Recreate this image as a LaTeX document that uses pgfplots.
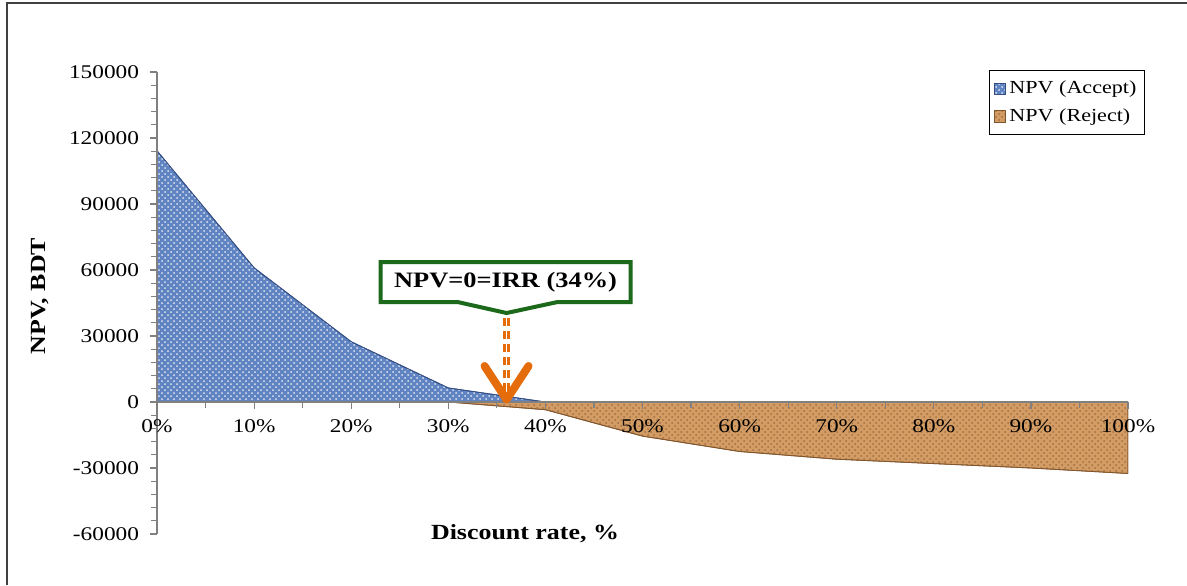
\documentclass[border=0pt]{standalone}
\usepackage{fontspec}
\setmainfont[FakeStretch=1.2]{Liberation Serif}
\usepackage{pgfplots}
\pgfplotsset{compat=1.18}
\usetikzlibrary{patterns}
\definecolor{acc}{RGB}{96,132,194}
\definecolor{accd}{RGB}{52,78,132}
\definecolor{rej}{RGB}{210,156,100}
\definecolor{rejd}{RGB}{130,85,45}
\definecolor{cgreen}{RGB}{28,105,28}
\definecolor{corange}{RGB}{228,108,10}
\begin{document}
\begin{tikzpicture}[x=1pt,y=1pt]
\useasboundingbox (0,0) rectangle (593.5,292.5);
\draw[black!75, line width=0.8pt] (3.5,0) -- (3.5,291) -- (593.5,291);
\begin{axis}[
  at={(78.5pt,25.5pt)}, anchor=south west,
  scale only axis, width=485.5pt, height=231pt,
  xmin=0, xmax=100, ymin=-60000, ymax=150000,
  axis on top,
  axis x line=middle, axis y line=left,
  x axis line style={-}, y axis line style={-},
  axis line style={gray, line width=0.8pt},
  hide obscured x ticks=false, hide obscured y ticks=false,
  xtick={0,10,...,100}, minor x tick num=1,
  ytick={-60000,-30000,0,30000,60000,90000,120000,150000}, minor y tick num=4,
  xticklabel={\pgfmathprintnumber{\tick}\%},
  scaled y ticks=false,
  yticklabel style={/pgf/number format/fixed, /pgf/number format/1000 sep={}},
  /pgf/number format/assume math mode=true,
  tick align=outside, major tick length=3.5pt, minor tick length=3pt,
  tick style={gray, line width=0.6pt},
  ticklabel style={font=\fontsize{9.7}{11}\selectfont},
  xticklabel style={anchor=north, yshift=-2pt},
  yticklabel style={anchor=east, xshift=-2pt},
  xlabel={Discount rate, \%}, ylabel={NPV, BDT},
  xlabel style={font=\bfseries\fontsize{10.8}{13}\selectfont, at={(axis description cs:0.379,0)}, anchor=center},
  ylabel style={font=\bfseries\fontsize{10.8}{13}\selectfont, at={(axis description cs:-0.1205,0.515)}, anchor=center},
  legend style={at={(1,1)}, anchor=north east, xshift=8.5pt, yshift=1pt, draw=black, line width=0.6pt,
    font=\fontsize{9.2}{11}\selectfont, row sep=2pt, inner xsep=2pt, inner ysep=3pt, cells={anchor=west}},
  legend image code/.code={\draw[#1, line width=0.3pt] (0pt,-2.8pt) rectangle (5.6pt,2.8pt);},
]
\addplot[fill=acc, draw=accd, line width=0.4pt,
  postaction={pattern=crosshatch dots, pattern color=white!80!acc}] coordinates {
  (0,114200) (10,61000) (20,27400) (30,6400) (40,0)
} \closedcycle;
\addlegendentry{NPV (Accept)}
\addplot[fill=rej, draw=rejd, line width=0.4pt,
  postaction={pattern=crosshatch dots, pattern color=rejd!60!rej}] coordinates {
  (30,0) (40,-3500) (50,-15500) (60,-22500) (70,-26000) (80,-28000) (90,-30000) (100,-32500)
} \closedcycle;
\addlegendentry{NPV (Reject)}
\coordinate (apex) at (axis cs:36,40450);
\coordinate (zero) at (axis cs:36,0);
\end{axis}
\draw[corange, line width=3.5pt, dash pattern=on 4pt off 2.5pt] ([yshift=-2.5pt]apex) -- ([yshift=4pt]zero);
\draw[white, line width=0.8pt] ([yshift=-2.5pt]apex) -- ([yshift=4pt]zero);
\draw[corange, line width=4pt, line cap=round, line join=round]
  ([shift={(-11pt,18pt)}]zero) -- ([yshift=1.2pt]zero) -- ([shift={(11pt,18pt)}]zero);
\begin{scope}[shift={(apex)}]
\filldraw[fill=white, draw=cgreen, line width=2pt]
  (0,0) -- (-24.5,5.5) -- (-63,5.5) -- (-63,25.5) -- (62,25.5) -- (62,5.5) -- (25.5,5.5) -- cycle;
\node[font=\bfseries\fontsize{11}{13}\selectfont] at (-0.5,15.5) {NPV=0=IRR (34\%)};
\end{scope}
\end{tikzpicture}
\end{document}
